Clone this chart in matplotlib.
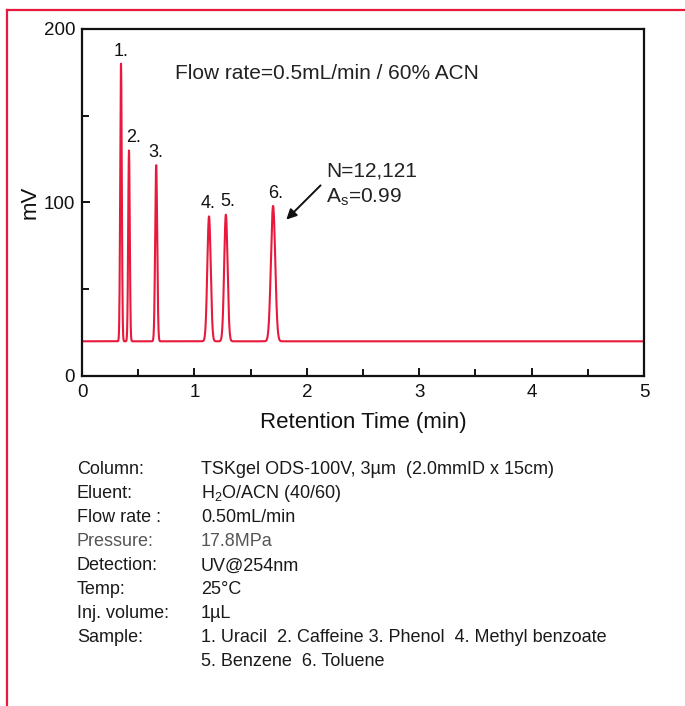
import numpy as np
import matplotlib
matplotlib.use('Agg')
from matplotlib import pyplot as plt
from matplotlib.lines import Line2D

plt.rcParams['font.family'] = ['Liberation Sans', 'DejaVu Sans']

# peak table
peak_labels = ['1.', '2.', '3.', '4.', '5.', '6.']
peak_times = [0.347, 0.418, 0.660, 1.130, 1.280, 1.700]   # min
peak_heights = [180, 130, 121.5, 92, 93, 98]             # mV
peak_sigmas = [0.007, 0.007, 0.009, 0.015, 0.015, 0.019]  # min
baseline = 20.0

conditions = [
    ('Column:', 'TSKgel ODS-100V, 3µm  (2.0mmID x 15cm)'),
    ('Eluent:', r'H$_\mathregular{2}$O/ACN (40/60)'),
    ('Flow rate :', '0.50mL/min'),
    ('Pressure:', '17.8MPa'),
    ('Detection:', 'UV@254nm'),
    ('Temp:', '25°C'),
    ('Inj. volume:', '1µL'),
    ('Sample:', '1. Uracil  2. Caffeine 3. Phenol  4. Methyl benzoate'),
    ('', '5. Benzene  6. Toluene'),
]

red = '#e8193c'

t = np.linspace(0, 5, 5001)
signal = np.full_like(t, baseline)
for tr, h, s in zip(peak_times, peak_heights, peak_sigmas):
    signal += (h - baseline) * np.exp(-0.5 * ((t - tr) / s) ** 2)

fig = plt.figure(figsize=(6.85, 7.06), dpi=100)
ax = fig.add_axes([82 / 685, 1 - 376 / 706, 562 / 685, 347 / 706])
ax.plot(t, signal, color=red, lw=1.5)

ax.set_xlim(0, 5)
ax.set_ylim(0, 200)
ax.set_xticks([0, 1, 2, 3, 4, 5])
ax.set_xticks(np.arange(0.5, 5, 1.0), minor=True)
ax.set_yticks([0, 100, 200])
ax.set_yticks([50, 150], minor=True)
ax.tick_params(which='both', direction='in', width=1.4, labelsize=13.5, colors='#111111')
ax.tick_params(which='major', length=6)
ax.tick_params(which='minor', length=5)
ax.tick_params(axis='x', pad=6)
ax.tick_params(axis='y', pad=5)
for sp in ax.spines.values():
    sp.set_linewidth(1.6)
    sp.set_color('#111111')

ax.set_xlabel('Retention Time (min)', fontsize=16, labelpad=8, color='#111111')
ax.set_ylabel('mV', fontsize=16, color='#111111')
ax.yaxis.set_label_coords(-0.074, 0.5)

label_dx = [0.0, 0.04, 0.0, -0.01, 0.02, 0.02]
for lab, tr, h, dx in zip(peak_labels, peak_times, peak_heights, label_dx):
    ax.annotate(lab, (tr + dx, h), xytext=(0, 3), textcoords='offset points',
                ha='center', va='bottom', fontsize=13, color='#111111')

ax.text(0.83, 174.5, 'Flow rate=0.5mL/min / 60% ACN', fontsize=15, va='center', color='#222222')
ax.text(2.17, 118, 'N=12,121', fontsize=15, va='center', color='#222222')
ax.text(2.17, 103, r'A$_\mathregular{s}$=0.99', fontsize=15, va='center', color='#222222')
ax.annotate('', xy=(1.80, 89), xytext=(2.14, 111),
            arrowprops=dict(arrowstyle='-|>', color='#111111', lw=1.4, mutation_scale=15))

y0 = 470
for i, (k, v) in enumerate(conditions):
    y = 1 - (y0 + 24 * i) / 706
    col = '#555555' if k == 'Pressure:' else '#1a1a1a'
    fig.text(77 / 685, y, k, fontsize=13, va='center', color=col)
    fig.text(201 / 685, y, v, fontsize=13, va='center', color=col)

# red frame around the figure (right and bottom sides run off the image)
fig.add_artist(Line2D([7 / 685, 1.0], [1 - 10 / 706, 1 - 10 / 706], color=red, lw=1.6))
fig.add_artist(Line2D([7 / 685, 7 / 685], [1 - 10 / 706, 0.0], color=red, lw=1.6))

fig.savefig('out.png', dpi=100)
